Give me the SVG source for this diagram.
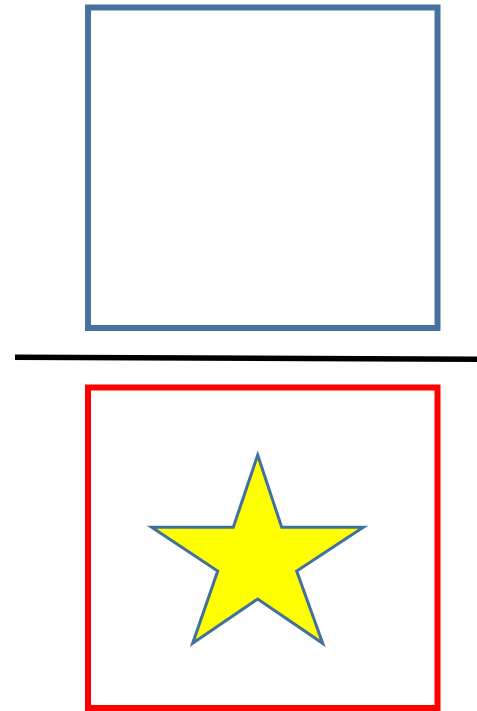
<svg xmlns="http://www.w3.org/2000/svg" width="477" height="711" viewBox="0 0 477 711">
<style>
.box{fill:none;stroke-width:6}
</style>
<rect width="477" height="711" fill="#fff"/>
<g id="top-square"><rect class="box" x="88" y="7.5" width="349.5" height="320.5" stroke="#46729f"/></g>
<g id="divider"><line x1="15" y1="357.3" x2="477" y2="359.3" stroke="#000" stroke-width="5.5"/></g>
<g id="bottom-square"><rect class="box" x="88" y="387.5" width="349.5" height="320.5" stroke="#ff0000"/></g>
<g id="star"><polygon points="257.7,455 281.7,527.3 363.3,527.3 296.7,571 322.7,643.3 257.7,599 192.7,643.3 217.7,571 151.7,527.3 233.3,527.3" fill="#ffff00" stroke="#41719c" stroke-width="3" stroke-linejoin="miter"/></g>
</svg>
